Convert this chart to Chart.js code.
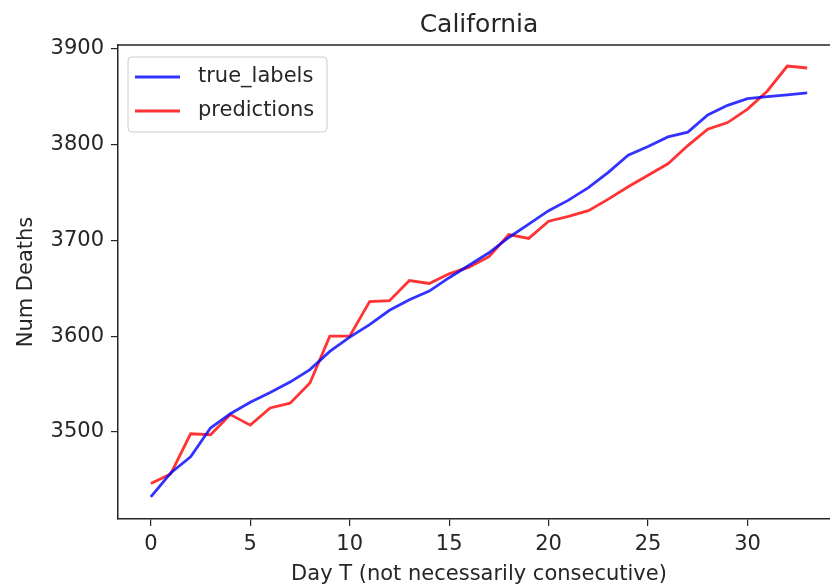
<!DOCTYPE html>
<html>
<head>
<meta charset="utf-8">
<script src="https://cdn.jsdelivr.net/npm/chart.js@4/dist/chart.umd.min.js"></script>
<style>
  html, body { margin: 0; padding: 0; background: #fff; overflow: hidden; }
  #wrap { width: 842px; height: 588px; }
</style>
</head>
<body>
<div id="wrap"><canvas id="chart" width="842" height="588"></canvas></div>
<script>
// data
const days = [0,1,2,3,4,5,6,7,8,9,10,11,12,13,14,15,16,17,18,19,20,21,22,23,24,25,26,27,28,29,30,31,32,33];
const trueLabels = [3432,3457,3474,3504,3519,3531,3541,3552,3565,3584,3599,3612,3627,3638,3647,3661,3674,3687,
                    3703,3717,3731,3742,3755,3771,3789,3798,3808,3813,3831,3841,3848,3850,3852,3854];
const predictions = [3446,3456,3498,3497,3518,3507,3525,3530,3551,3600,3600,3636,3637,3658,3655,3665,3672,3683,
                     3706,3702,3720,3725,3731,3743,3756,3768,3780,3799,3816,3823,3837,3856,3882,3880];
const xTicks = [0,5,10,15,20,25,30];
const yTicks = [3500,3600,3700,3800,3900];

const FONT = '"DejaVu Sans", sans-serif';
const INK = "#262626";

const pts = (ys) => days.map((d, i) => ({ x: d, y: ys[i] }));

// title, axis labels, top/right spines and the boxed legend
const decor = {
  id: "decor",
  afterDraw(chart) {
    const { ctx, chartArea: a } = chart;
    ctx.save();
    ctx.strokeStyle = INK; ctx.lineWidth = 1.5;
    ctx.beginPath();
    ctx.moveTo(a.left, a.top); ctx.lineTo(a.right, a.top); ctx.lineTo(a.right, a.bottom);
    ctx.stroke();

    ctx.fillStyle = INK;
    ctx.textAlign = "center"; ctx.textBaseline = "middle";
    const cx = (a.left + a.right) / 2;
    ctx.font = "25px " + FONT;
    ctx.fillText("California", cx, 25);
    ctx.font = "21px " + FONT;
    ctx.fillText("Day T (not necessarily consecutive)", cx, 575);
    ctx.translate(27, (a.top + a.bottom) / 2);
    ctx.rotate(-Math.PI / 2);
    ctx.fillText("Num Deaths", 0, 0);
    ctx.setTransform(1, 0, 0, 1, 0, 0);

    // legend
    const bx = a.left + 10, by = a.top + 12, bw = 199, bh = 75;
    ctx.beginPath();
    ctx.roundRect(bx, by, bw, bh, 4);
    ctx.fillStyle = "rgba(255,255,255,0.8)"; ctx.fill();
    ctx.strokeStyle = "#ccc"; ctx.lineWidth = 1; ctx.stroke();
    ctx.font = "21px " + FONT; ctx.textAlign = "left";
    chart.data.datasets.forEach((ds, i) => {
      const y = by + 20 + i * 34;
      ctx.beginPath();
      ctx.strokeStyle = ds.borderColor; ctx.lineWidth = 2.8;
      ctx.moveTo(bx + 7, y); ctx.lineTo(bx + 52, y); ctx.stroke();
      ctx.fillStyle = INK;
      ctx.fillText(ds.label, bx + 70, y);
    });
    ctx.restore();
  },
};

new Chart(document.getElementById("chart"), {
  type: "line",
  data: {
    datasets: [
      { label: "true_labels", data: pts(trueLabels), borderColor: "rgba(0,0,255,0.8)",
        borderWidth: 2.8, pointRadius: 0, tension: 0, fill: false },
      { label: "predictions", data: pts(predictions), borderColor: "rgba(255,0,0,0.8)",
        borderWidth: 2.8, pointRadius: 0, tension: 0, fill: false },
    ],
  },
  options: {
    responsive: false, animation: false,
    layout: { padding: { top: 45, left: 0, right: 2, bottom: 0 } },
    plugins: { legend: { display: false }, title: { display: false }, tooltip: { enabled: false } },
    scales: {
      x: {
        type: "linear", min: -1.65, max: 34.65,
        afterBuildTicks: (s) => { s.ticks = xTicks.map((v) => ({ value: v })); },
        afterFit: (s) => { s.height = 69; },
        grid: { drawOnChartArea: false, drawTicks: true, tickLength: 7, color: INK, lineWidth: 1.2 },
        border: { display: true, color: INK, width: 1.5 },
        ticks: { color: INK, font: { family: FONT, size: 21 }, padding: 6, maxRotation: 0,
                 callback: (v) => String(v) },
      },
      y: {
        min: 3409, max: 3904,
        afterBuildTicks: (s) => { s.ticks = yTicks.map((v) => ({ value: v })); },
        afterFit: (s) => { s.width = 118; },
        grid: { drawOnChartArea: false, drawTicks: true, tickLength: 7, color: INK, lineWidth: 1.2 },
        border: { display: true, color: INK, width: 1.5 },
        ticks: { color: INK, font: { family: FONT, size: 21 }, padding: 7,
                 callback: (v) => String(v) },
      },
    },
  },
  plugins: [decor],
});
</script>
</body>
</html>
